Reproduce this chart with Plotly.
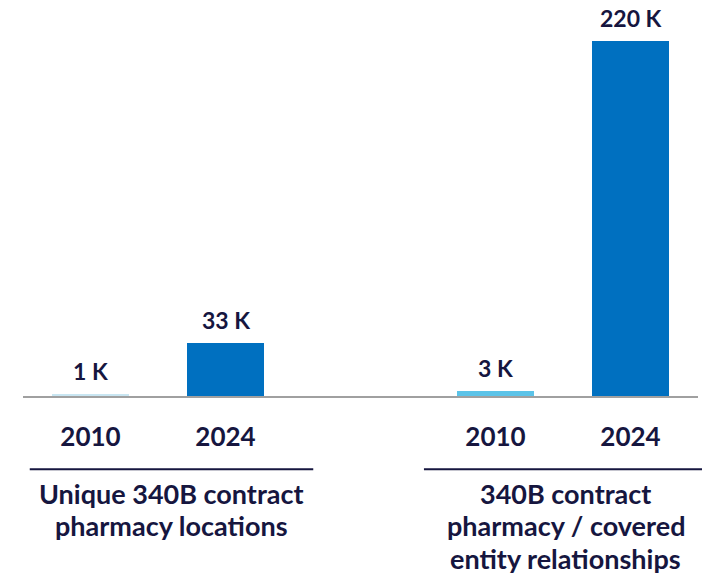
import plotly.graph_objects as go

years = ["2010", "2024", "2010", "2024"]
positions = [0, 1, 3, 4]
values = [1000, 33000, 3000, 220000]
value_labels = ["1 K", "33 K", "3 K", "220 K"]
bar_colors = ["#C9E6F2", "#0070C0", "#5BC3E8", "#0070C0"]
group_label_lines = [["Unique 340B contract", "pharmacy locations"],
                     ["340B contract", "pharmacy / covered", "entity relationships"]]
group_centers = [0.6, 3.52]

NAVY = "#16163F"
FONT = "Lato"
X_MIN, X_MAX = -0.5, 4.5
PLOT_H = 386  # plot area height in px


def to_paper(d):
    return (d - X_MIN) / (X_MAX - X_MIN)


fig = go.Figure()
fig.add_trace(go.Bar(
    x=positions, y=values, width=0.57,
    marker=dict(color=bar_colors, line=dict(width=0)),
    cliponaxis=False, hoverinfo="skip",
))

for xp, v, lab in zip(positions, values, value_labels):
    fig.add_annotation(x=xp, y=v, xref="x", yref="y", text=lab, showarrow=False,
                       yanchor="middle", yshift=23,
                       font=dict(family=FONT, size=23, color=NAVY, weight="bold"))

for c, lines in zip(group_centers, group_label_lines):
    fig.add_shape(type="line", xref="paper", yref="paper",
                  x0=to_paper(c - 1.05), x1=to_paper(c + 1.05), y0=-0.19, y1=-0.19,
                  line=dict(color=NAVY, width=2))
    for i, line in enumerate(lines):
        fig.add_annotation(x=to_paper(c), xref="paper", xanchor="center",
                           y=-(97 + 32.5 * i) / PLOT_H, yref="paper", yanchor="middle",
                           text=line, showarrow=False,
                           font=dict(family=FONT, size=27, color=NAVY, weight="bold"))

fig.update_layout(
    width=710, height=577,
    margin=dict(l=15, r=20, t=2, b=189),
    plot_bgcolor="white", paper_bgcolor="white",
    showlegend=False,
    bargap=0,
    xaxis=dict(range=[X_MIN, X_MAX], tickvals=positions, ticktext=years,
               showgrid=False, zeroline=False, showline=True,
               linecolor="#A0A0A0", linewidth=2,
               ticks="outside", ticklen=17, tickcolor="rgba(0,0,0,0)",
               tickfont=dict(family=FONT, size=26, color=NAVY, weight="bold"),
               fixedrange=True),
    yaxis=dict(range=[0, 239000], visible=False, fixedrange=True),
)

fig.write_html("out.html")
